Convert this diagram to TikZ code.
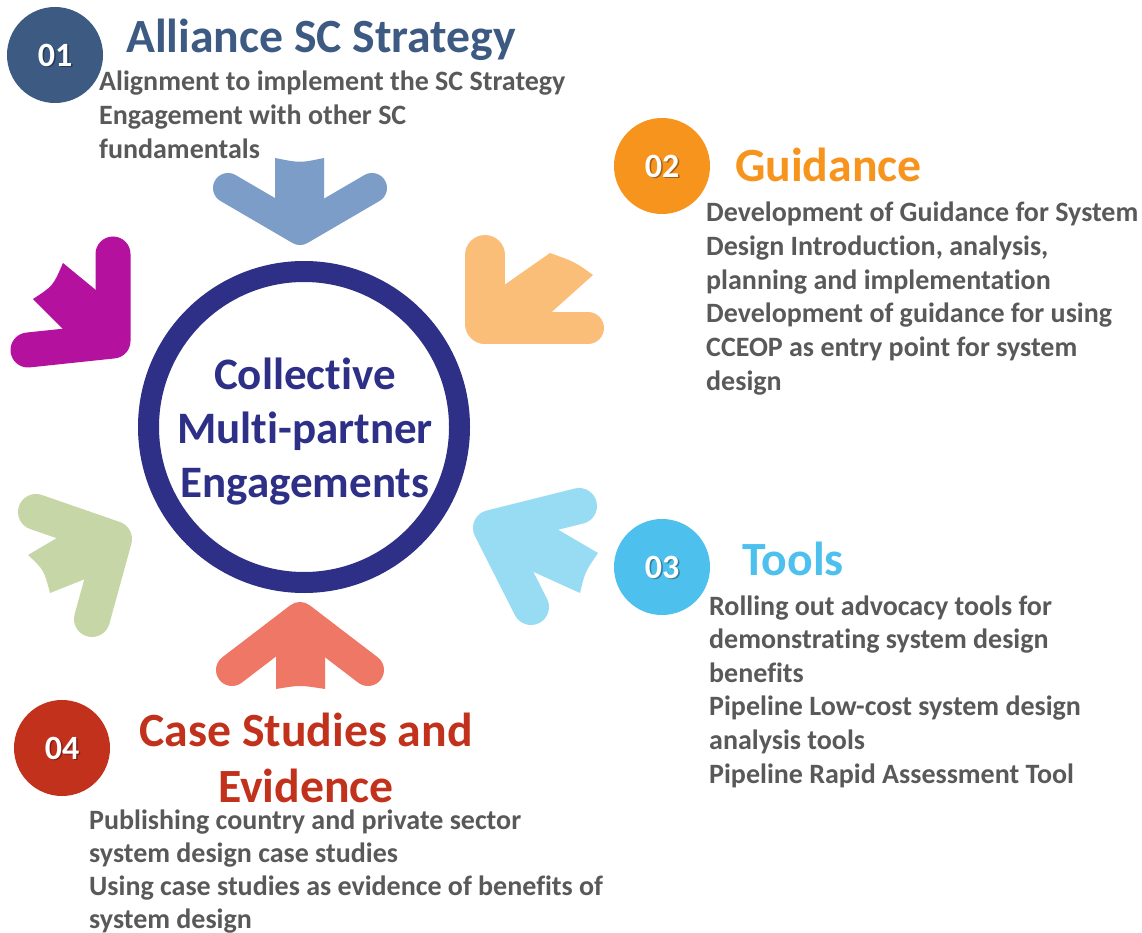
\documentclass[tikz,border=0pt]{standalone}
\usepackage{fontspec}
\setmainfont{Carlito}[Ligatures=NoCommon]
\definecolor{bodygrey}{HTML}{595959}
\definecolor{hubnavy}{HTML}{2E3087}
\definecolor{cOne}{HTML}{3C5A82}
\definecolor{cTwo}{HTML}{F7941E}
\definecolor{cThree}{HTML}{4DC0EE}
\definecolor{cFour}{HTML}{C1311B}
\definecolor{arBlue}{HTML}{7B9DC7}
\definecolor{arOrange}{HTML}{FBBE78}
\definecolor{arSky}{HTML}{98DCF4}
\definecolor{arRed}{HTML}{EE7766}
\definecolor{arGreen}{HTML}{C7D6A6}
\definecolor{arMagenta}{HTML}{B4119F}
\tikzset{
  body/.style={font=\bfseries\fontsize{28}{33.6}\selectfont, text=bodygrey, anchor=base west, inner sep=0pt},
  heading/.style={font=\bfseries\fontsize{47.7}{56}\selectfont, anchor=base west, inner sep=0pt},
  numdisc/.style={circle, minimum size=96pt, inner sep=0pt},
  numtxt/.style={font=\bfseries\fontsize{34}{34}\selectfont, text=white, inner sep=0pt},
  numshadow/.style={font=\bfseries\fontsize{34}{34}\selectfont, text=black, opacity=0.35, inner sep=0pt},
  arm/.style={line cap=round, line join=round},
}
\begin{document}
\begin{tikzpicture}[x=1pt, y=-1pt]
\useasboundingbox (0,0) rectangle (1142,933);
\fill[white] (0,0) rectangle (1142,933);

% ---- central ring ----
\node[circle, draw=hubnavy, line width=21pt, minimum size=311pt, inner sep=0pt] (hub) at (304,427) {};
\node[font=\bfseries\fontsize{45}{54}\selectfont, text=hubnavy, align=center, inner sep=0pt] (hubtext) at (305,432) {Collective\\Multi-partner\\Engagements};

% ---- arrows pointing to the ring ----
% top (blue)
\fill[arBlue] (275,158) .. controls (300,163) .. (324,158) -- (324,225) -- (275,225) -- cycle;
\draw[arm, arBlue, line width=30pt] (228,188) -- (300,230) -- (372,188);
% bottom (red)
\fill[arRed] (276,622) -- (325,622) -- (325,689) .. controls (300,685) .. (276,689) -- cycle;
\draw[arm, arRed, line width=32pt] (232,670) -- (300,618) -- (368,670);
% upper left (magenta)
\draw[arm, arMagenta, line width=35pt] (113,254) -- (113,341) -- (28,350);
\fill[arMagenta] (63,263) -- (108,300) -- (108,338) -- (67,333) -- (33,299) .. controls (53,286) .. (63,263) -- cycle;
% upper right (orange)
\draw[arm, arOrange, line width=40pt] (485,255) -- (485,324);
\draw[arm, arOrange, line width=32pt] (485,328) -- (588,328);
\fill[arOrange] (490,295) -- (550,253) .. controls (575,262) .. (593,275) -- (545,318) -- (490,322) -- cycle;
% lower right (sky blue)
\draw[arm, arSky, line width=36pt] (579,506) -- (491,528) -- (531,607);
\fill[arSky] (545,522) -- (598,553) .. controls (585,572) .. (580,593) -- (525,568) -- (495,530) -- cycle;
% lower left (green)
\draw[arm, arGreen, line width=36pt] (36,512) -- (114,539) -- (92,619);
\fill[arGreen] (62,535) -- (28,555) .. controls (44,570) .. (50,593) -- (95,575) -- (110,542) -- cycle;

% ---- 01 Alliance SC Strategy ----
\node[numdisc, fill=cOne] (n1) at (55,55) {};
\node[numshadow] at ([shift={(1.5,1.5)}]n1.center) {01};
\node[numtxt] (t1) at (n1.center) {01};
\node[heading, text=cOne] (h1) at (126,53) {Alliance SC Strategy};
\foreach \t [count=\i] in {Alignment to implement the SC Strategy, Engagement with other SC, fundamentals}
  \node[body] (a\i) at (99,{91+33.6*(\i-1)}) {\t};

% ---- 02 Guidance ----
\node[numdisc, fill=cTwo] (n2) at (662,166) {};
\node[numshadow] at ([shift={(1.5,1.5)}]n2.center) {02};
\node[numtxt] (t2) at (n2.center) {02};
\node[heading, text=cTwo] (h2) at (735,182) {Guidance};
\foreach \t [count=\i] in {Development of Guidance for System, {Design Introduction, analysis,}, planning and implementation, Development of guidance for using, CCEOP as entry point for system, design}
  \node[body] (b\i) at (706,{222+33.6*(\i-1)}) {\t};

% ---- 03 Tools ----
\node[numdisc, fill=cThree] (n3) at (662,567) {};
\node[numshadow] at ([shift={(1.5,1.5)}]n3.center) {03};
\node[numtxt] (t3) at (n3.center) {03};
\node[heading, text=cThree] (h3) at (742,575) {Tools};
\foreach \t [count=\i] in {Rolling out advocacy tools for, demonstrating system design, benefits, Pipeline Low-cost system design, analysis tools, Pipeline Rapid Assessment Tool}
  \node[body] (c\i) at (709,{615+33.6*(\i-1)}) {\t};

% ---- 04 Case Studies and Evidence ----
\node[numdisc, fill=cFour] (n4) at (62,748) {};
\node[numshadow] at ([shift={(1.5,1.5)}]n4.center) {04};
\node[numtxt] (t4) at (n4.center) {04};
\node[heading, text=cFour, anchor=base] (h4a) at (306,746) {Case Studies and};
\node[heading, text=cFour, anchor=base] (h4b) at (306,802) {Evidence};
\foreach \t [count=\i] in {Publishing country and private sector, system design case studies, Using case studies as evidence of benefits of, system design}
  \node[body] (d\i) at (89,{829+33.2*(\i-1)}) {\t};
\end{tikzpicture}
\end{document}
